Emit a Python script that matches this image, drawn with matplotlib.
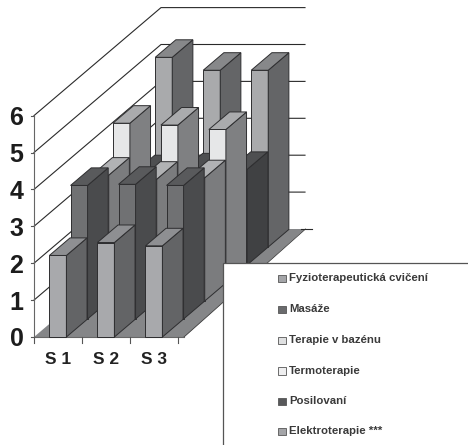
import matplotlib
matplotlib.use("Agg")
import matplotlib.pyplot as plt
from matplotlib.patches import Polygon, Rectangle

categories = ["S 1", "S 2", "S 3"]
value_ticks = [0, 1, 2, 3, 4, 5, 6]

fyzio = [2.21, 2.56, 2.47]
masaze = [3.62, 3.65, 3.62]
bazen = [3.41, 3.30, 3.34]
termo = [4.33, 4.28, 4.16]
posilovani = [2.50, 2.55, 2.59]
elektro = [5.14, 4.79, 4.79]

series_names = ["Fyzioterapeutická cvičení", "Masáže", "Terapie v bazénu",
                "Termoterapie", "Posilovaní", "Elektroterapie ***"]
series_values = [fyzio, masaze, bazen, termo, posilovani, elektro]

# front, side, top shades per series
shades = [("#a8a9ac", "#636466", "#8e8f92"),
          ("#707173", "#4a4b4d", "#595a5c"),
          ("#a5a6a8", "#7b7c7e", "#b1b2b4"),
          ("#e6e7e8", "#7f8082", "#aaabad"),
          ("#58595b", "#404143", "#4e4f51"),
          ("#a9aaac", "#646567", "#87888a")]
legend_shades = ["#a4a5a8", "#6a6b6d", "#dfe0e1", "#eeeeef", "#58595b", "#a4a5a8"]

# oblique projection, in pixels of the 468x445 figure
X0, Y0 = 34.0, 337.0
CAT_W = 48.0
UNIT = 36.9
DEPTH_X, DEPTH_Y = 127.0, -108.0
BAR_W = 17.0
BAR_OFFSET = 15.4
BAR_DEPTH = 0.975


def project(cat, slot, value):
    # cat in category widths, slot in series depths (6 of them), value in axis units
    d = slot / len(series_values)
    return (X0 + cat * CAT_W + d * DEPTH_X, Y0 + d * DEPTH_Y - value * UNIT)


def draw_bar(ax, cat_idx, slot, value, colors):
    w = BAR_W / CAT_W
    left = cat_idx + BAR_OFFSET / CAT_W
    right = left + w
    back = slot + BAR_DEPTH
    faces = [
        ([(left, slot, 0), (right, slot, 0), (right, slot, value), (left, slot, value)], colors[0]),
        ([(right, slot, 0), (right, back, 0), (right, back, value), (right, slot, value)], colors[1]),
        ([(left, slot, value), (right, slot, value), (right, back, value), (left, back, value)], colors[2]),
    ]
    for corners, color in faces:
        pts = [project(*c) for c in corners]
        ax.add_patch(Polygon(pts, closed=True, facecolor=color, edgecolor="#2e2e30",
                             linewidth=0.7, joinstyle="miter"))


fig = plt.figure(figsize=(4.68, 4.45), dpi=100)
ax = fig.add_axes([0, 0, 1, 1])
ax.set_xlim(0, 468)
ax.set_ylim(445, 0)
ax.axis("off")

plt.rcParams["font.family"] = ["Liberation Sans", "DejaVu Sans"]

# walls: diagonal on the left side, horizontal on the back
n_cat = len(categories)
back_right = X0 + n_cat * CAT_W + DEPTH_X
for v in value_ticks:
    if v > 0:
        x_back, y_back = project(0, 6, v)
        x_front, y_front = project(0, 0, v)
        ax.plot([x_front, x_back, back_right], [y_front, y_back, y_back],
                color="#2a2a2a", lw=0.8, zorder=1)
    ax.plot([X0 - 3.5, X0], [Y0 - v * UNIT] * 2, color="#555555", lw=0.8, zorder=1)
    ax.text(23.5, Y0 - v * UNIT + 2.5, str(v), ha="right", va="center", fontsize=18,
            fontweight="bold", color="#1c1c1c")

# floor
fx0, fy0 = project(0, 0, 0)
fx1, fy1 = project(n_cat, 6, 0)
ax.add_patch(Polygon([(fx0, fy0), (fx0 + 150, fy0), (fx1, fy1), (fx0 + DEPTH_X, fy1)],
                     closed=True, facecolor="#858688", edgecolor="none", zorder=2))
ax.plot([fx0 + 150, fx1 + 0.5], [fy0, fy1], color="#3a3a3a", lw=0.6, zorder=2)
ax.plot([fx1 - 4, fx1 + 7], [fy1, fy1], color="#2a2a2a", lw=0.8, zorder=2)

# axes lines and x ticks
ax.plot([X0, X0], [Y0, Y0 - 6 * UNIT], color="#666666", lw=0.8, zorder=3)
ax.plot([X0, fx0 + 150], [Y0, Y0], color="#666666", lw=0.8, zorder=3)
for i in range(n_cat + 1):
    ax.plot([X0 + i * CAT_W] * 2, [Y0, Y0 + 6], color="#555555", lw=0.8, zorder=3)
for i, name in enumerate(categories):
    ax.text(X0 + (i + 0.5) * CAT_W, 360, name, ha="center", va="center", fontsize=12.5,
            fontweight="bold", color="#222222")

# bars, back series first
for slot in range(len(series_values) - 1, -1, -1):
    for i in range(n_cat):
        draw_bar(ax, i, slot, series_values[slot][i], shades[slot])
for p in ax.patches[1:]:
    p.set_zorder(4)

# legend panel runs off the right and bottom edges
ax.add_patch(Rectangle((222.5, 262.5), 260, 200, facecolor="white", edgecolor="#555555",
                       linewidth=0.9, zorder=5))
legend_y = [278, 309, 340, 370.5, 401, 431]
for y, name, color in zip(legend_y, series_names, legend_shades):
    ax.add_patch(Rectangle((278, y - 3.5), 7.5, 7.5, facecolor=color, edgecolor="#555555",
                           linewidth=0.6, zorder=6))
    ax.text(289, y, name, ha="left", va="center", fontsize=8.2, fontweight="bold",
            color="#3a3a3a", zorder=6)

fig.savefig("out.png", dpi=100)
plt.close(fig)
